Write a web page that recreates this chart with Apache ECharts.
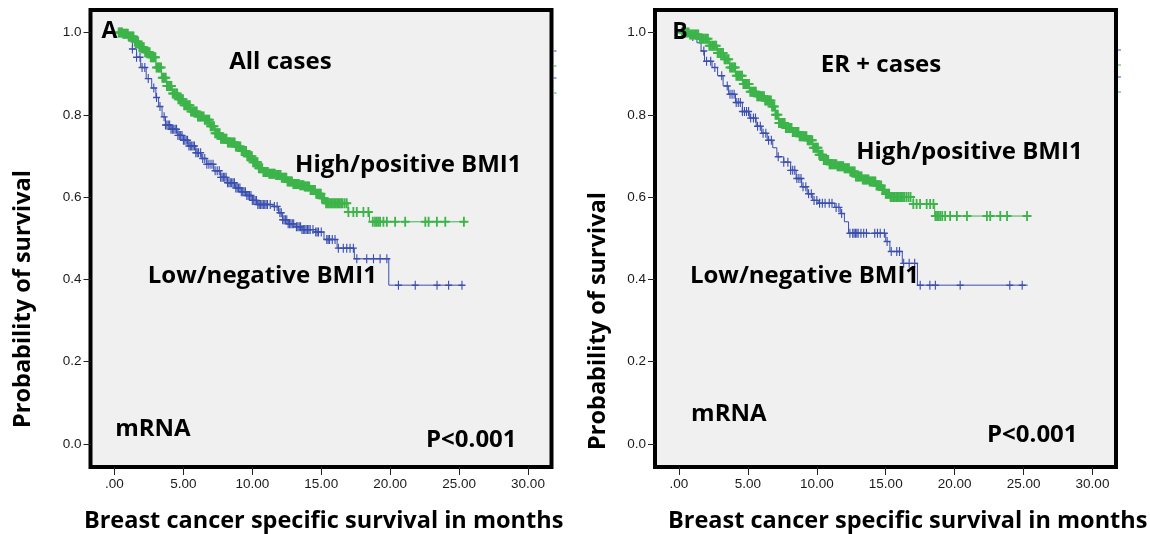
<!DOCTYPE html>
<html>
<head>
<meta charset="utf-8">
<script src="https://cdn.jsdelivr.net/npm/echarts@6/dist/echarts.min.js"></script>
<style>
html,body{margin:0;padding:0;background:#fff;}
#c{width:1150px;height:534px;}
</style>
</head>
<body>
<div id="c"></div>
<script>
// ---------- data ----------
const xTicks = [0, 5, 10, 15, 20, 25, 30];
const xTickLabels = ['.00', '5.00', '10.00', '15.00', '20.00', '25.00', '30.00'];
const yTicks = [0, 0.2, 0.4, 0.6, 0.8, 1.0];
const yTickLabels = ['0.0', '0.2', '0.4', '0.6', '0.8', '1.0'];

// Panel A (All cases) - Kaplan-Meier steps [months, survival]
const hiA = [[0,1.0],[0.6,0.997],[1.0,0.99],[1.4,0.978],[1.8,0.964],[2.2,0.952],[2.6,0.94],[3.0,0.915],[3.4,0.89],[3.8,0.87],[4.2,0.852],[4.6,0.838],[5.0,0.823],[5.5,0.808],[6.0,0.796],[6.5,0.788],[6.9,0.772],[7.3,0.755],[7.7,0.742],[8.2,0.733],[8.8,0.723],[9.2,0.712],[9.6,0.699],[10.0,0.685],[10.4,0.67],[10.8,0.661],[11.2,0.657],[11.7,0.654],[12.1,0.647],[12.5,0.638],[12.9,0.632],[13.4,0.629],[13.8,0.626],[14.2,0.617],[14.6,0.608],[15.0,0.597],[15.3,0.585],[16.95,0.564],[18.5,0.54],[25.35,0.54]];
const loA = [[0,1.0],[0.7,0.993],[1.0,0.98],[1.3,0.96],[1.6,0.94],[1.9,0.915],[2.3,0.888],[2.7,0.865],[3.0,0.842],[3.2,0.82],[3.45,0.795],[3.7,0.775],[4.1,0.765],[4.6,0.75],[5.0,0.738],[5.4,0.724],[5.9,0.708],[6.3,0.694],[6.7,0.68],[7.2,0.664],[7.7,0.648],[8.2,0.635],[8.8,0.622],[9.2,0.613],[9.6,0.604],[10.0,0.592],[10.4,0.582],[11.5,0.577],[11.9,0.562],[12.2,0.545],[12.6,0.535],[13.1,0.528],[13.6,0.521],[14.6,0.515],[15.2,0.497],[16.15,0.476],[17.4,0.45],[19.9,0.386],[25.25,0.386]];
const cenHiA = [0.3,0.38,0.47,0.55,0.63,0.72,0.8,0.88,0.97,1.05,1.13,1.22,1.3,1.38,1.47,1.55,1.63,1.72,1.8,1.88,1.97,2.05,2.13,2.22,2.3,2.38,2.47,2.55,2.63,2.72,2.8,2.88,2.97,3.05,3.13,3.22,3.3,3.38,3.47,3.55,3.63,3.72,3.8,3.88,3.97,4.05,4.13,4.22,4.3,4.38,4.47,4.55,4.63,4.72,4.8,4.88,4.97,5.05,5.13,5.22,5.3,5.38,5.47,5.55,5.63,5.72,5.8,5.88,5.97,6.05,6.13,6.22,6.3,6.38,6.47,6.55,6.63,6.72,6.8,6.88,6.97,7.05,7.13,7.22,7.3,7.38,7.47,7.55,7.63,7.72,7.8,7.88,7.97,8.05,8.13,8.22,8.3,8.38,8.47,8.55,8.63,8.72,8.8,8.88,8.97,9.05,9.13,9.22,9.3,9.38,9.47,9.55,9.63,9.72,9.8,9.88,9.97,10.05,10.13,10.22,10.3,10.38,10.47,10.55,10.63,10.72,10.8,10.88,10.97,11.05,11.13,11.22,11.3,11.38,11.47,11.55,11.63,11.72,11.8,11.88,11.97,12.05,12.13,12.22,12.3,12.38,12.47,12.55,12.63,12.72,12.8,12.88,12.97,13.05,13.13,13.22,13.3,13.38,13.47,13.55,13.63,13.72,13.8,13.88,13.97,14.05,14.13,14.22,14.3,14.38,14.47,14.55,14.63,14.72,14.8,14.88,14.97,15.05,15.13,15.22,15.35,15.45,15.55,15.65,15.75,15.85,15.95,16.05,16.15,16.25,16.35,16.45,16.55,16.7,16.85,16.97,17.33,17.58,18.06,18.42,18.74,18.9,19.03,19.15,19.27,19.51,19.76,20.36,21.09,22.55,22.79,23.39,24.0,25.35];
const cenLoA = [1.3,1.6,1.85,2.0,2.2,2.45,2.85,3.05,3.3,3.6,3.7,3.8,3.9,4.0,4.1,4.2,4.3,4.4,4.5,4.6,4.7,4.8,4.9,5.0,5.1,5.2,5.3,5.4,5.5,5.6,5.7,5.8,5.9,6.0,6.1,6.25,6.4,6.55,6.7,6.85,7.0,7.15,7.3,7.45,7.6,7.7,7.8,7.9,8.0,8.1,8.2,8.3,8.4,8.5,8.6,8.7,8.8,8.9,9.0,9.1,9.2,9.3,9.4,9.5,9.6,9.7,9.8,9.9,10.0,10.1,10.2,10.3,10.4,10.5,10.6,10.7,10.8,10.9,11.0,11.1,11.3,11.6,11.8,12.0,12.1,12.2,12.3,12.4,12.5,12.6,12.7,12.8,12.9,13.0,13.2,13.3,13.4,13.5,13.6,13.7,13.8,13.9,14.0,14.1,14.2,14.4,14.6,14.7,14.8,15.0,15.4,15.5,15.6,15.8,16.0,16.24,16.6,16.85,17.09,17.33,17.58,18.3,18.79,19.27,19.76,20.6,21.82,23.4,24.24,25.21];

// Panel B (ER + cases)
const hiB = [[0,1.0],[0.8,0.995],[1.5,0.985],[2.2,0.968],[2.8,0.95],[3.3,0.935],[3.7,0.915],[4.1,0.895],[4.6,0.875],[5.1,0.856],[5.6,0.845],[6.2,0.835],[6.7,0.82],[7.0,0.8],[7.25,0.78],[7.7,0.768],[8.2,0.758],[8.7,0.748],[9.3,0.738],[9.7,0.72],[10.1,0.703],[10.5,0.69],[10.9,0.68],[11.5,0.675],[12.0,0.67],[12.4,0.662],[12.8,0.65],[13.3,0.643],[13.8,0.638],[14.3,0.628],[14.7,0.617],[15.0,0.608],[15.3,0.6],[17.0,0.583],[18.55,0.554],[25.3,0.554]];
const loB = [[0,1.0],[1.0,0.99],[1.3,0.975],[1.6,0.955],[1.85,0.93],[2.4,0.915],[2.8,0.895],[3.2,0.87],[3.6,0.85],[4.1,0.83],[4.6,0.808],[5.1,0.792],[5.6,0.772],[6.0,0.755],[6.4,0.738],[6.8,0.72],[7.1,0.698],[7.6,0.685],[8.1,0.665],[8.5,0.645],[8.9,0.625],[9.3,0.608],[9.7,0.592],[10.1,0.585],[11.3,0.575],[11.7,0.56],[12.0,0.54],[12.3,0.512],[15.0,0.492],[15.3,0.468],[16.2,0.439],[17.3,0.386],[25.3,0.386]];
const cenHiB = [0.2,0.3,0.4,0.5,0.6,0.7,0.8,0.9,1.0,1.1,1.2,1.3,1.4,1.5,1.6,1.7,1.8,1.9,2.0,2.1,2.2,2.3,2.4,2.5,2.6,2.7,2.8,2.9,3.0,3.1,3.2,3.3,3.4,3.5,3.6,3.7,3.8,3.9,4.0,4.08,4.16,4.25,4.33,4.42,4.5,4.58,4.67,4.75,4.83,4.92,5.0,5.08,5.17,5.25,5.33,5.42,5.5,5.58,5.67,5.75,5.83,5.92,6.0,6.08,6.17,6.25,6.33,6.42,6.5,6.58,6.67,6.75,6.83,6.92,7.0,7.08,7.17,7.25,7.33,7.42,7.5,7.58,7.67,7.75,7.83,7.92,8.0,8.08,8.17,8.25,8.33,8.42,8.5,8.58,8.67,8.75,8.83,8.92,9.0,9.08,9.17,9.25,9.33,9.42,9.5,9.58,9.67,9.75,9.83,9.92,10.0,10.08,10.17,10.25,10.33,10.42,10.5,10.58,10.67,10.75,10.83,10.92,11.0,11.08,11.17,11.25,11.33,11.42,11.5,11.58,11.67,11.75,11.83,11.92,12.0,12.08,12.17,12.25,12.33,12.42,12.5,12.58,12.67,12.75,12.83,12.92,13.0,13.08,13.17,13.25,13.33,13.42,13.5,13.58,13.67,13.75,13.83,13.92,14.0,14.08,14.17,14.25,14.33,14.42,14.5,14.58,14.67,14.75,14.83,14.92,15.0,15.08,15.17,15.25,15.35,15.45,15.55,15.65,15.75,15.85,15.95,16.05,16.15,16.25,16.35,16.5,16.65,16.8,17.0,17.24,17.49,17.97,18.22,18.46,18.6,18.72,18.82,18.95,19.1,19.31,19.67,20.16,20.89,22.34,22.58,23.31,23.8,25.25];
const cenLoB = [1.0,1.8,2.0,2.3,2.6,3.1,3.5,3.7,3.85,4.0,4.15,4.3,4.45,4.6,4.75,4.9,5.05,5.2,5.4,5.55,5.7,5.9,6.1,6.3,6.5,6.7,7.2,7.6,7.9,8.1,8.25,8.4,8.55,8.7,8.85,9.0,9.2,9.4,9.6,9.8,10.0,10.2,10.4,10.6,10.9,11.1,11.4,11.6,11.8,12.4,12.6,12.7,12.8,12.9,13.0,13.2,13.4,13.6,14.2,14.4,14.6,14.9,15.1,15.4,15.8,16.0,16.3,16.7,17.1,17.5,18.2,18.6,20.4,24.0,24.9];

// ---------- chart ----------
const BLUE = '#3a4fb0', GREEN = '#3cb44a';
const PLUS = 'path://M4.2,0H5.8V10H4.2Z M0,4.2H10V5.8H0Z';
const PLUS_B = 'path://M4,0H6V10H4Z M0,4H10V6H0Z';
function survAt(curve, t) {
  let s = curve[0][1];
  for (const [ct, cs] of curve) { if (ct <= t) s = cs; else break; }
  return s;
}
function cens(curve, times) { return times.map(t => [t, survAt(curve, t)]); }

const X_MIN = -1.741, X_MAX = 31.705, Y_MIN = -0.0559, Y_MAX = 1.0547;
const tickStyle = {color: '#222', width: 1};
function xAx(i) {
  return {
    type: 'value', gridIndex: i, min: X_MIN, max: X_MAX, position: 'bottom',
    axisLine: {show: false, onZero: false}, splitLine: {show: false},
    axisTick: {show: true, inside: false, customValues: xTicks, length: 8, lineStyle: tickStyle},
    axisLabel: {customValues: xTicks, margin: 10, fontSize: 13.5, color: '#1a1a1a', fontFamily: 'Liberation Sans',
      formatter: v => { const k = xTicks.findIndex(t => Math.abs(t - v) < 1e-6); return k >= 0 ? xTickLabels[k] : ''; }}
  };
}
function yAx(i) {
  return {
    type: 'value', gridIndex: i, min: Y_MIN, max: Y_MAX, position: 'left',
    axisLine: {show: false, onZero: false}, splitLine: {show: false},
    axisTick: {show: true, inside: false, customValues: yTicks, length: 7, lineStyle: tickStyle},
    axisLabel: {customValues: yTicks, margin: 9, fontSize: 13.5, color: '#1a1a1a', fontFamily: 'Liberation Sans',
      formatter: v => { const k = yTicks.findIndex(t => Math.abs(t - v) < 1e-6); return k >= 0 ? yTickLabels[k] : ''; }}
  };
}
function lineS(i, data, color) {
  return {type: 'line', xAxisIndex: i, yAxisIndex: i, data, step: 'end', symbol: 'none',
    lineStyle: {color, width: 1}, z: 3, silent: true};
}
function scatS(i, data, color, size, sym) {
  return {type: 'scatter', xAxisIndex: i, yAxisIndex: i, data, symbol: sym || PLUS, symbolSize: size || [7, 8],
    itemStyle: {color, opacity: 1}, z: 4, silent: true};
}
const F = 'bold 24px "Open Sans"';
const FT = 'bold 23.5px "Open Sans"';
function txt(text, x, y, font, rot) {
  return {type: 'text', x, y, rotation: rot || 0, z: 10,
    style: {text, font: font || F, fill: '#000', textAlign: 'center', textVerticalAlign: 'middle'}};
}
function tickMark(x, y, color) {
  return {type: 'line', shape: {x1: x, y1: y, x2: x + 3, y2: y}, style: {stroke: color, lineWidth: 1}};
}

const chart = echarts.init(document.getElementById('c'), null, {renderer: 'canvas'});
chart.setOption({
  animation: false,
  backgroundColor: '#fff',
  grid: [
    {left: 90.5, top: 10, width: 461, height: 457, show: true, backgroundColor: '#f0f0f0', borderColor: '#000', borderWidth: 4},
    {left: 655, top: 10, width: 461, height: 457, show: true, backgroundColor: '#f0f0f0', borderColor: '#000', borderWidth: 4}
  ],
  xAxis: [xAx(0), xAx(1)],
  yAxis: [yAx(0), yAx(1)],
  series: [
    lineS(0, loA, BLUE), scatS(0, cens(loA, cenLoA), BLUE, [7, 9], PLUS),
    lineS(0, hiA, GREEN), scatS(0, cens(hiA, cenHiA), GREEN, [9, 10], PLUS_B),
    lineS(1, loB, BLUE), scatS(1, cens(loB, cenLoB), BLUE, [7, 9], PLUS),
    lineS(1, hiB, GREEN), scatS(1, cens(hiB, cenHiB), GREEN, [9, 10], PLUS_B)
  ],
  graphic: [
    txt('A', 109.5, 31, 'bold 23px "Open Sans"'),
    txt('All cases', 280.4, 62.5),
    txt('High/positive BMI1', 408.3, 165),
    txt('Low/negative BMI1', 262.3, 275.7),
    txt('mRNA', 152.9, 429.3),
    txt('P<0.001', 471.3, 440.6),
    txt('Breast cancer specific survival in months', 323.6, 521.5, FT),
    txt('Probability of survival', 23, 299, FT, Math.PI / 2),
    txt('B', 680, 32, 'bold 23px "Open Sans"'),
    txt('ER + cases', 881, 65.3),
    txt('High/positive BMI1', 969.4, 152),
    txt('Low/negative BMI1', 804.5, 276.5),
    txt('mRNA', 728.8, 414),
    txt('P<0.001', 1032.3, 435),
    txt('Breast cancer specific survival in months', 907.7, 521.5, FT),
    txt('Probability of survival', 598, 321, FT, Math.PI / 2),
    tickMark(553.5, 51, BLUE), tickMark(553.5, 66, GREEN), tickMark(553.5, 78, BLUE), tickMark(553.5, 93, GREEN),
    tickMark(1118, 50, BLUE), tickMark(1118, 65, GREEN), tickMark(1118, 77, BLUE), tickMark(1118, 92, GREEN)
  ]
});
</script>
</body>
</html>
